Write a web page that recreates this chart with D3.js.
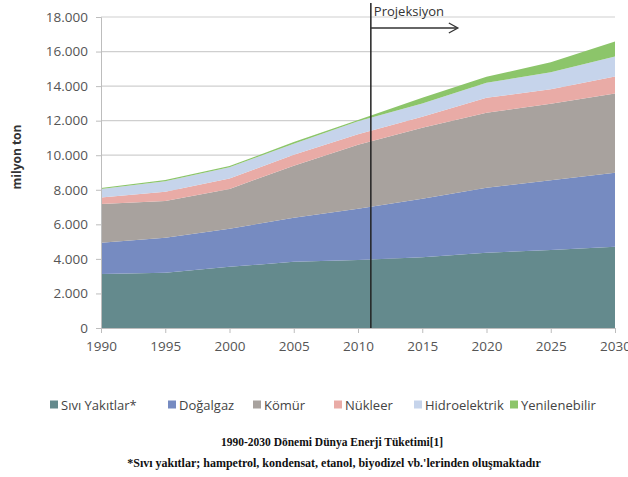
<!DOCTYPE html>
<html>
<head>
<meta charset="utf-8">
<script src="https://d3js.org/d3.v7.min.js"></script>
<style>
  body { margin: 0; background: #fff; }
  svg { display: block; }
</style>
</head>
<body>
<script>
var years = [1990, 1995, 2000, 2005, 2010, 2015, 2020, 2025, 2030];
var sivi     = [3130, 3200, 3540, 3830, 3940, 4100, 4350, 4520, 4700];
var dogalgaz = [1800, 2020, 2200, 2550, 2960, 3380, 3770, 4030, 4290];
var komur    = [2240, 2130, 2310, 3010, 3710, 4110, 4340, 4430, 4580];
var nukleer  = [390, 530, 600, 640, 600, 640, 860, 840, 980];
var hidro    = [490, 620, 650, 640, 750, 760, 870, 980, 1160];
var yenilen  = [60, 60, 70, 90, 80, 340, 350, 580, 870];

var seriesNames = ["Sıvı Yakıtlar*", "Doğalgaz", "Kömür", "Nükleer", "Hidroelektrik", "Yenilenebilir"];
var seriesKeys = ["sivi", "dogalgaz", "komur", "nukleer", "hidro", "yenilen"];
var colors = ["#648a8d", "#768bc1", "#a8a29e", "#e9aba6", "#c6d4eb", "#8cc56a"];
var yTicks = [0, 2000, 4000, 6000, 8000, 10000, 12000, 14000, 16000, 18000];
var xTicks = [1990, 1995, 2000, 2005, 2010, 2015, 2020, 2025, 2030];
var projYear = 2011;

var width = 628, height = 477;

var rows = years.map(function(y, i) {
  return {year: y, sivi: sivi[i], dogalgaz: dogalgaz[i], komur: komur[i],
          nukleer: nukleer[i], hidro: hidro[i], yenilen: yenilen[i]};
});

var x = d3.scaleLinear().domain([1990, 2030]).range([101, 615]);
var y = d3.scaleLinear().domain([0, 18000]).range([328, 17]);

var svg = d3.select("body").append("svg")
    .attr("width", width)
    .attr("height", height);

// grid
svg.append("g").selectAll("line")
  .data(yTicks.slice(1))
  .enter().append("line")
    .attr("x1", x(1990)).attr("x2", x(2030))
    .attr("y1", function(d) { return y(d); })
    .attr("y2", function(d) { return y(d); })
    .style("stroke", "#cfcfcf")
    .style("stroke-width", 1.2);

var stack = d3.stack().keys(seriesKeys);
var layers = stack(rows);

var area = d3.area()
    .x(function(d) { return x(d.data.year); })
    .y0(function(d) { return y(d[0]); })
    .y1(function(d) { return y(d[1]); });

svg.append("g").selectAll("path")
  .data(layers)
  .enter().append("path")
    .attr("d", area)
    .style("fill", function(d, i) { return colors[i]; });

// axes
var yAxis = svg.append("g")
    .attr("transform", "translate(" + x(1990) + ",0)")
    .call(d3.axisLeft(y).tickValues(yTicks).tickSize(5).tickPadding(8)
      .tickFormat(function(d) { return d === 0 ? "0" : d3.format(",")(d).replace(/,/g, "."); }));
yAxis.select(".domain").style("stroke", "#bdbdbd");
yAxis.selectAll(".tick line").style("stroke", "#bdbdbd");
yAxis.selectAll("text")
    .style("font-family", "'Open Sans', sans-serif")
    .style("font-size", "13.5px")
    .style("fill", "#555");

var xAxis = svg.append("g")
    .attr("transform", "translate(0," + y(0) + ")")
    .call(d3.axisBottom(x).tickValues(xTicks).tickSize(5).tickPadding(8).tickFormat(d3.format("d")));
xAxis.select(".domain").style("stroke", "#bdbdbd");
xAxis.selectAll(".tick line").style("stroke", "#bdbdbd");
xAxis.selectAll("text")
    .style("font-family", "'Open Sans', sans-serif")
    .style("font-size", "13.5px")
    .style("fill", "#555");

// y label
svg.append("text")
    .attr("transform", "translate(21,157) rotate(-90)")
    .attr("text-anchor", "middle")
    .style("font-family", "'Open Sans', sans-serif")
    .style("font-weight", "bold")
    .style("font-size", "12px")
    .style("fill", "#333")
    .text("milyon ton");

// projection marker
svg.append("line")
    .attr("x1", x(projYear)).attr("x2", x(projYear))
    .attr("y1", 3).attr("y2", y(0))
    .style("stroke", "#222")
    .style("stroke-width", 1.5);

svg.append("line")
    .attr("x1", x(projYear)).attr("x2", x(projYear) + 86)
    .attr("y1", 28).attr("y2", 28)
    .style("stroke", "#333")
    .style("stroke-width", 1.3);
svg.append("path")
    .attr("d", "M" + (x(projYear) + 78) + ",23 L" + (x(projYear) + 87) + ",28 L" + (x(projYear) + 78) + ",33")
    .style("fill", "none")
    .style("stroke", "#333")
    .style("stroke-width", 1.3);

svg.append("text")
    .attr("x", x(projYear) + 3).attr("y", 16)
    .style("font-family", "'Open Sans', sans-serif")
    .style("font-size", "13px")
    .style("fill", "#333")
    .text("Projeksiyon");

// legend
var legendX = [50, 168, 253, 334, 414, 510];
var legend = svg.append("g").selectAll("g")
  .data(seriesNames)
  .enter().append("g")
    .attr("transform", function(d, i) { return "translate(" + legendX[i] + ",405)"; });
legend.append("rect")
    .attr("x", 0).attr("y", -4.5)
    .attr("width", 8).attr("height", 8)
    .style("fill", function(d, i) { return colors[i]; });
legend.append("text")
    .attr("x", 11).attr("y", 4.5)
    .style("font-family", "'Open Sans', sans-serif")
    .style("font-size", "13px")
    .style("fill", "#444")
    .text(function(d) { return d; });

// caption
svg.append("text")
    .attr("x", 332).attr("y", 446)
    .attr("text-anchor", "middle")
    .style("font-family", "'Liberation Serif', serif")
    .style("font-weight", "bold")
    .style("font-size", "11.5px")
    .style("fill", "#111")
    .text("1990-2030 Dönemi Dünya Enerji Tüketimi[1]");
svg.append("text")
    .attr("x", 334).attr("y", 467)
    .attr("text-anchor", "middle")
    .style("font-family", "'Liberation Serif', serif")
    .style("font-weight", "bold")
    .style("font-size", "12px")
    .style("fill", "#111")
    .text("*Sıvı yakıtlar; hampetrol, kondensat, etanol, biyodizel vb.'lerinden oluşmaktadır");
</script>
</body>
</html>
